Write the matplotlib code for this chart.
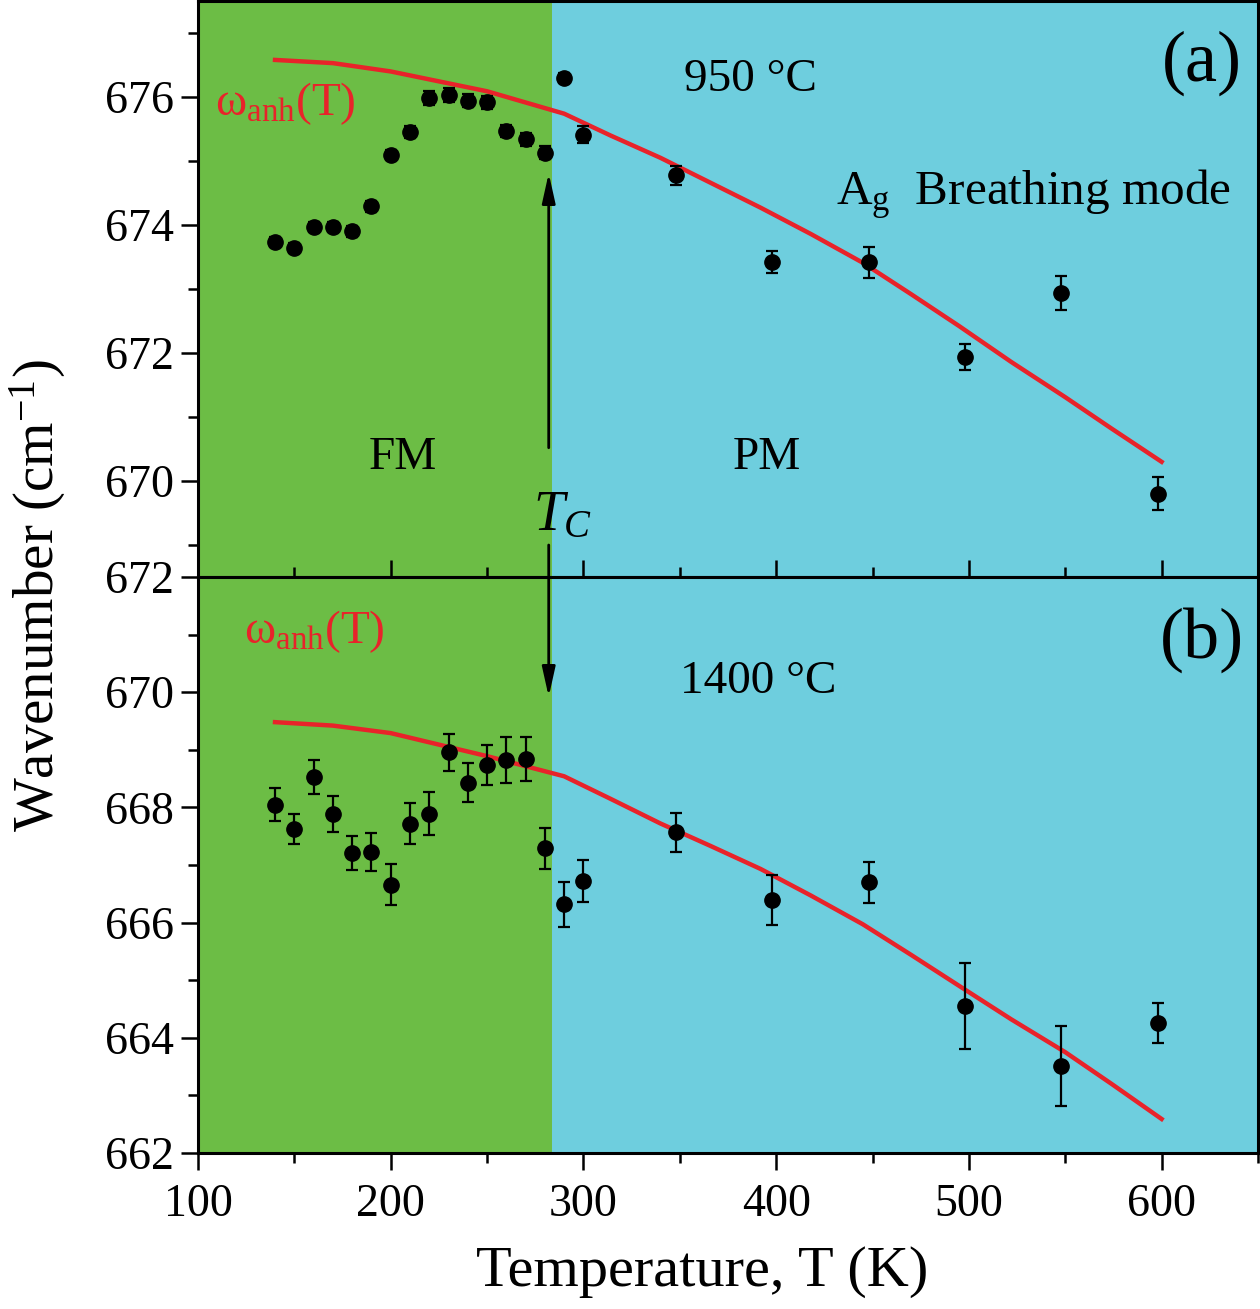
import matplotlib
matplotlib.use("Agg")
import matplotlib.pyplot as plt
from matplotlib.patches import ConnectionPatch
from matplotlib.ticker import MultipleLocator

plt.rcParams['font.family'] = ['Liberation Serif', 'DejaVu Serif']
plt.rcParams['mathtext.fontset'] = 'custom'
plt.rcParams['mathtext.rm'] = 'Liberation Serif'
plt.rcParams['mathtext.it'] = 'Liberation Serif:italic'
plt.rcParams['mathtext.bf'] = 'Liberation Serif:bold'

# ---------------- data ----------------
T_pts = [140, 150, 160, 170, 180, 190, 200, 210, 220, 230, 240, 250, 260, 270,
         280, 290, 300, 348, 398, 448, 498, 548, 598]

w_a = [673.73, 673.64, 673.97, 673.97, 673.90, 674.29, 675.09, 675.45, 675.99,
       676.03, 675.94, 675.92, 675.47, 675.34, 675.13, 676.30, 675.41, 674.78,
       673.42, 673.42, 671.94, 672.94, 669.80]
e_a = [0.08, 0.08, 0.08, 0.08, 0.08, 0.08, 0.08, 0.09, 0.11, 0.11, 0.1, 0.1,
       0.1, 0.1, 0.1, 0.08, 0.13, 0.15, 0.17, 0.24, 0.2, 0.26, 0.26]

w_b = [668.05, 667.62, 668.53, 667.88, 667.21, 667.22, 666.66, 667.72, 667.89,
       668.96, 668.43, 668.74, 668.83, 668.84, 667.29, 666.32, 666.72, 667.57,
       666.39, 666.70, 664.55, 663.51, 664.26]
e_b = [0.28, 0.26, 0.29, 0.31, 0.29, 0.33, 0.35, 0.35, 0.37, 0.32, 0.34, 0.35,
       0.40, 0.38, 0.36, 0.39, 0.37, 0.34, 0.43, 0.36, 0.74, 0.70, 0.35]

T_fit = [140, 170, 200, 250, 290, 314, 340, 366, 392, 418, 445, 470, 495,
         522, 550, 574, 600]
fit_a = [676.58, 676.53, 676.40, 676.09, 675.74, 675.40, 675.05, 674.66,
         674.27, 673.86, 673.41, 672.92, 672.42, 671.86, 671.31, 670.82,
         670.30]
fit_b = [669.48, 669.42, 669.29, 668.89, 668.54, 668.15, 667.72, 667.33,
         666.93, 666.47, 665.97, 665.44, 664.90, 664.32, 663.75, 663.20,
         662.59]

Tc = 283.5
xlim = (100, 650)
green = '#6CBD45'
blue = '#6ECEDE'
red = '#E8232A'

fig = plt.figure(figsize=(12.6, 13.09), dpi=100)
L, W = 0.1571, 0.8413
ax_a = fig.add_axes([L, 0.5592, W, 0.4400])
ax_b = fig.add_axes([L, 0.1192, W, 0.4400])

FS = 33

def style(ax, ylim):
    ax.set_xlim(*xlim)
    ax.set_ylim(*ylim)
    ax.axvspan(xlim[0], Tc, color=green, lw=0, zorder=0)
    ax.axvspan(Tc, xlim[1], color=blue, lw=0, zorder=0)
    for s in ax.spines.values():
        s.set_linewidth(2.2)
    ax.xaxis.set_major_locator(MultipleLocator(100))
    ax.xaxis.set_minor_locator(MultipleLocator(50))
    ax.yaxis.set_major_locator(MultipleLocator(2))
    ax.yaxis.set_minor_locator(MultipleLocator(1))
    ax.tick_params(which='major', direction='out', length=12, width=1.8,
                   labelsize=FS, pad=5)
    ax.tick_params(which='minor', direction='out', length=7, width=1.8)

style(ax_a, (668.5, 677.5))
style(ax_b, (662, 672))

ax_a.tick_params(axis='x', which='both', labelbottom=False)
ax_b.tick_params(axis='x', which='both', top=True, labeltop=False)
ax_b.tick_params(axis='x', which='major', pad=10)
ax_a.set_yticks([670, 672, 674, 676])
ax_b.set_yticks([662, 664, 666, 668, 670, 672])

for ax, w, e, fit in [(ax_a, w_a, e_a, fit_a), (ax_b, w_b, e_b, fit_b)]:
    ax.plot(T_fit, fit, color=red, lw=3.2, zorder=3, solid_joinstyle='round')
    ax.errorbar(T_pts, w, yerr=e, fmt='o', color='black', ms=11,
                capsize=4.5, elinewidth=1.6, capthick=1.6, zorder=4)

# texts panel (a)
ax_a.text(621, 676.53, '(a)', fontsize=52, ha='center', va='center')
ax_a.text(352, 676.27, '950 °C', fontsize=34, ha='left', va='center')
ax_a.text(431, 674.47, 'A$_{\\mathrm{g}}$  Breathing mode', fontsize=35.5,
          ha='left', va='center')
ax_a.text(109, 675.9, 'ω$_{\\mathrm{anh}}$(T)', fontsize=34, color=red,
          ha='left', va='center')
ax_a.text(206.5, 670.37, 'FM', fontsize=34, ha='center', va='center')
ax_a.text(395, 670.37, 'PM', fontsize=34, ha='center', va='center')
ax_a.text(274, 669.45, '$T_{C}$', fontsize=40, ha='left', va='center')

# texts panel (b)
ax_b.text(621, 670.9, '(b)', fontsize=52, ha='center', va='center')
ax_b.text(124, 671.05, 'ω$_{\\mathrm{anh}}$(T)', fontsize=34, color=red,
          ha='left', va='center')
ax_b.text(350, 670.18, '1400 °C', fontsize=34, ha='left', va='center')

# Tc arrows
Tx = 282
ax_a.annotate('', xy=(Tx, 674.81), xytext=(Tx, 670.52),
              arrowprops=dict(arrowstyle='-|>,head_length=0.9,head_width=0.2',
                              mutation_scale=20, lw=2, color='black',
                              shrinkA=0, shrinkB=0), zorder=5)
con = ConnectionPatch(xyA=(Tx, 669.0), coordsA=ax_a.transData,
                      xyB=(Tx, 669.92), coordsB=ax_b.transData,
                      arrowstyle='-|>,head_length=0.9,head_width=0.2',
                      mutation_scale=20, lw=2, color='black',
                      shrinkA=0, shrinkB=0, zorder=5)
fig.add_artist(con)

fig.text(0.557, 0.028, 'Temperature, T (K)', fontsize=42, ha='center',
         va='center')
fig.text(0.030, 0.545, 'Wavenumber (cm$^{-1}$)', fontsize=41, ha='center',
         va='center', rotation=90)

fig.savefig('out.png', dpi=100)
